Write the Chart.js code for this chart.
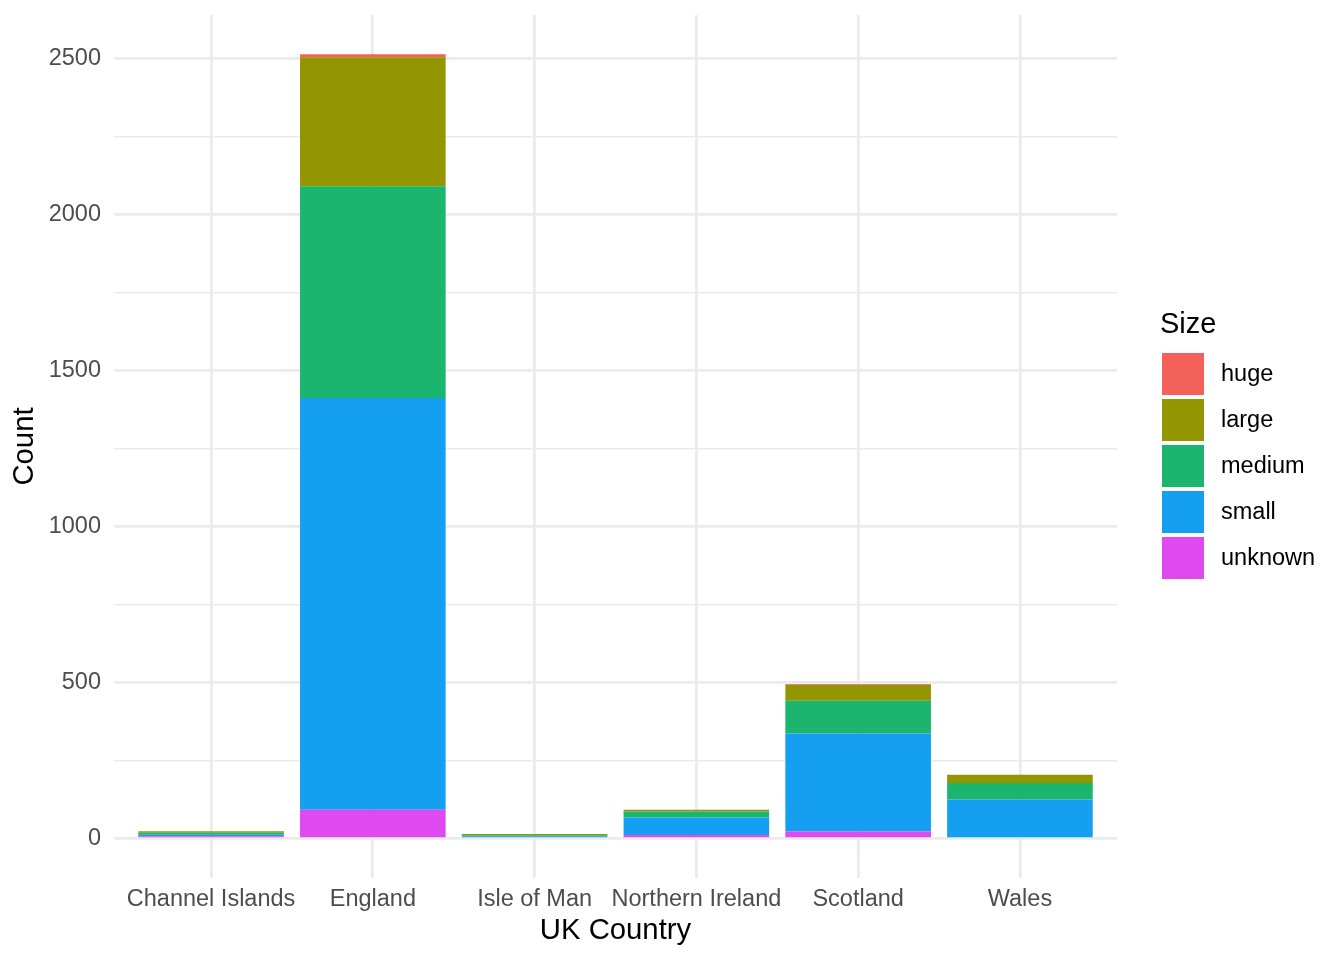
<!DOCTYPE html>
<html lang="en">
<head>
  <meta charset="UTF-8">
  <title>UK Country by Size</title>
  <script src="https://cdn.jsdelivr.net/npm/chart.js@4.4.0/dist/chart.umd.min.js"></script>
  <style>
    html, body { margin: 0; padding: 0; background: #ffffff; }
    #wrap { width: 1344px; height: 960px; position: relative; }
  </style>
</head>
<body>
  <div id="wrap"><canvas id="sizeChart"></canvas></div>

  <script>
    // categories and counts per size class
    const countries = ["Channel Islands", "England", "Isle of Man", "Northern Ireland", "Scotland", "Wales"];
    const sizeLabels = ["huge", "large", "medium", "small", "unknown"];
    const huge    = [0, 10, 0, 0, 3, 0];
    const large   = [5, 413, 4, 6, 51, 26];
    const medium  = [6, 678, 3, 19, 105, 53];
    const small   = [5, 1319, 3, 56, 314, 121];
    const unknown = [8, 93, 5, 12, 23, 5];
    const yTicks = [0, 250, 500, 750, 1000, 1250, 1500, 1750, 2000, 2250, 2500];

    const colors = {
      huge: "#F4615B",
      large: "#939600",
      medium: "#1BB56D",
      small: "#159FF0",
      unknown: "#DE4AF0"
    };
    const seriesValues = { huge, large, medium, small, unknown };

    const FONT = "'Liberation Sans', Arial, Helvetica, sans-serif";

    // bottom of the stack first
    const stackOrder = ["unknown", "small", "medium", "large", "huge"];
    const datasets = stackOrder.map(name => ({
      label: name,
      data: seriesValues[name].map((v, i) => ({ x: i + 1, y: v })),
      backgroundColor: colors[name],
      borderWidth: 0,
      barPercentage: 0.9,
      categoryPercentage: 1.0
    }));

    const yMax = Math.max(...countries.map((c, i) => huge[i] + large[i] + medium[i] + small[i] + unknown[i]));
    const yPad = yMax * 0.05;

    const legendPlugin = {
      id: "sizeLegend",
      afterDraw(chart) {
        const ctx = chart.ctx;
        ctx.save();
        ctx.fillStyle = "#000000";
        ctx.textAlign = "left";
        ctx.textBaseline = "middle";
        ctx.font = "29px " + FONT;
        ctx.fillText("Size", 1160, 325);
        ctx.font = "23.5px " + FONT;
        sizeLabels.forEach((name, i) => {
          const top = 353 + i * 46;
          ctx.fillStyle = colors[name];
          ctx.fillRect(1162, top, 42, 42);
          ctx.fillStyle = "#000000";
          ctx.fillText(name, 1221, top + 22);
        });
        ctx.restore();
      }
    };

    new Chart(document.getElementById("sizeChart"), {
      type: "bar",
      data: { datasets: datasets },
      plugins: [legendPlugin],
      options: {
        responsive: true,
        maintainAspectRatio: false,
        animation: false,
        layout: { padding: { left: 0, top: 15, right: 227, bottom: 0 } },
        plugins: {
          legend: { display: false },
          tooltip: { enabled: false }
        },
        scales: {
          x: {
            type: "linear",
            stacked: true,
            offset: false,
            min: 0.4,
            max: countries.length + 0.6,
            afterBuildTicks: axis => { axis.ticks = countries.map((c, i) => ({ value: i + 1 })); },
            afterFit: axis => { axis.height = 82; axis.paddingLeft = 0; axis.paddingRight = 0; },
            border: { display: false },
            grid: { color: "#EBEBEB", lineWidth: 2.8, drawTicks: false, offset: false },
            ticks: {
              padding: 7,
              color: "#4D4D4D",
              font: { family: FONT, size: 23.5 },
              maxRotation: 0,
              autoSkip: false,
              callback: v => countries[v - 1]
            },
            title: {
              display: true,
              text: "UK Country",
              color: "#000000",
              font: { family: FONT, size: 29.3 },
              padding: { top: 0, bottom: 12 }
            }
          },
          y: {
            stacked: true,
            min: -yPad,
            max: yMax + yPad,
            afterBuildTicks: axis => { axis.ticks = yTicks.map(v => ({ value: v })); },
            afterFit: axis => { axis.width = 114; axis.paddingTop = 0; axis.paddingBottom = 0; },
            border: { display: false },
            grid: {
              color: "#EBEBEB",
              lineWidth: c => (c.tick && c.tick.value % 500 === 0) ? 2.8 : 1.4,
              drawTicks: false
            },
            ticks: {
              padding: 13,
              color: "#4D4D4D",
              font: { family: FONT, size: 23.5 },
              autoSkip: false,
              callback: v => (v % 500 === 0 ? v : "")
            },
            title: {
              display: true,
              text: "Count",
              color: "#000000",
              font: { family: FONT, size: 29.3 },
              padding: { top: 7, bottom: 0 }
            }
          }
        }
      }
    });
  </script>
</body>
</html>
